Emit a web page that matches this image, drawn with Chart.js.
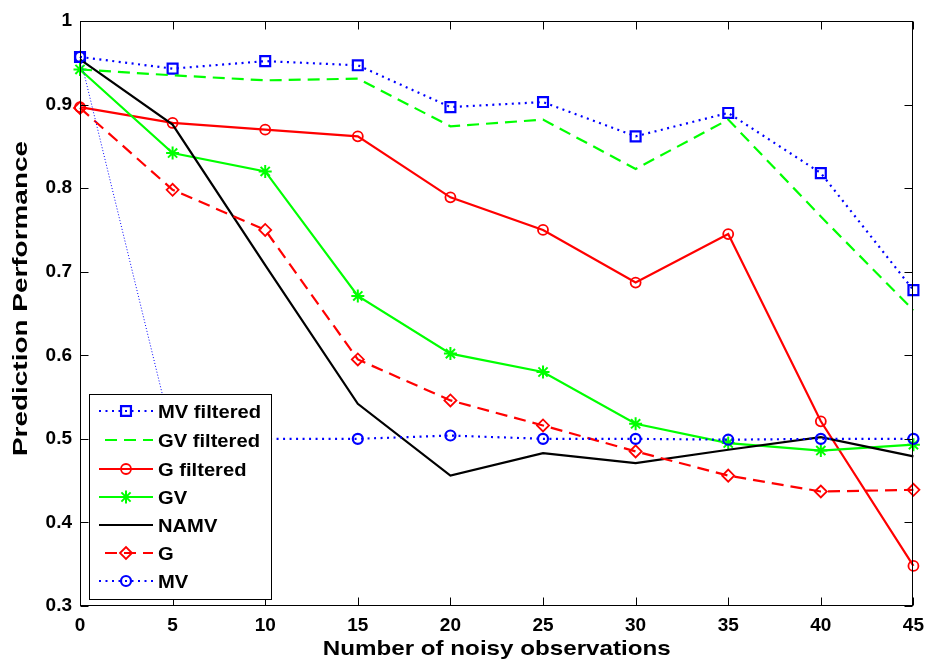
<!DOCTYPE html>
<html>
<head>
<meta charset="utf-8">
<script src="https://cdn.jsdelivr.net/npm/chart.js@4/dist/chart.umd.min.js"></script>
<style>
html,body{margin:0;padding:0;background:#fff;}
canvas{display:block;}
</style>
</head>
<body>
<canvas id="c" width="932" height="665"></canvas>
<script>
// ---- data ----
const xValues = [0, 5, 10, 15, 20, 25, 30, 35, 40, 45];
const xTickLabels = ['0', '5', '10', '15', '20', '25', '30', '35', '40', '45'];
const yTickValues = [0.3, 0.4, 0.5, 0.6, 0.7, 0.8, 0.9, 1.0];
const yTickLabels = ['0.3', '0.4', '0.5', '0.6', '0.7', '0.8', '0.9', '1'];
const seriesNames = ['MV filtered', 'GV filtered', 'G filtered', 'GV', 'NAMV', 'G', 'MV'];
const mvFiltered = [0.957, 0.943, 0.952, 0.947, 0.897, 0.903, 0.862, 0.890, 0.818, 0.678];
const gvFiltered = [0.942, 0.935, 0.929, 0.931, 0.874, 0.882, 0.823, 0.882, 0.766, 0.654];
const gFiltered  = [0.897, 0.878, 0.870, 0.862, 0.789, 0.750, 0.687, 0.745, 0.521, 0.348];
const gv         = [0.942, 0.842, 0.820, 0.671, 0.602, 0.580, 0.518, 0.495, 0.486, 0.493];
const namv       = [0.954, 0.876, 0.708, 0.542, 0.456, 0.483, 0.471, 0.487, 0.502, 0.479];
const g          = [0.896, 0.798, 0.750, 0.595, 0.546, 0.516, 0.485, 0.456, 0.437, 0.439];
const mv         = [0.957, 0.503, 0.500, 0.500, 0.504, 0.500, 0.500, 0.499, 0.500, 0.500];
const xTitle = 'Number of noisy observations';
const yTitle = 'Prediction Performance';

const BLUE = '#0000ff', GREEN = '#00ff00', RED = '#ff0000', BLACK = '#000000';
const FONT = '"Liberation Sans", Arial, sans-serif';
const DOT = [2, 4.5];
const DASH = [12, 7];

function pts(arr) { return arr.map((v, i) => ({ x: xValues[i], y: v })); }

const styles = [
  { color: BLUE,  dash: DOT,  point: 'rect',    radius: 7,   pbw: 2.2 },
  { color: GREEN, dash: DASH, point: false,     radius: 0,   pbw: 0 },
  { color: RED,   dash: [],   point: 'circle',  radius: 5,   pbw: 1.8 },
  { color: GREEN, dash: [],   point: 'star',    radius: 6.5, pbw: 2 },
  { color: BLACK, dash: [],   point: false,     radius: 0,   pbw: 0 },
  { color: RED,   dash: DASH, point: 'rectRot', radius: 6,   pbw: 1.8 },
  { color: BLUE,  dash: DOT,  point: 'circle',  radius: 5,   pbw: 2.2 }
];
const seriesData = [mvFiltered, gvFiltered, gFiltered, gv, namv, g, mv];

const datasets = seriesData.map((arr, i) => {
  const s = styles[i];
  const ds = {
    label: seriesNames[i],
    data: pts(arr),
    borderColor: s.color,
    backgroundColor: 'rgba(0,0,0,0)',
    borderWidth: 2.2,
    borderDash: s.dash,
    borderCapStyle: 'butt',
    pointStyle: s.point || 'circle',
    pointRadius: s.point ? s.radius : 0,
    pointBorderWidth: s.pbw,
    pointBorderColor: s.color,
    pointBackgroundColor: 'rgba(0,0,0,0)',
    tension: 0,
    fill: false,
    clip: false,
    order: 6 - i
  };
  if (i === 6) {
    ds.segment = {
      borderWidth: c => (c.p0DataIndex === 0 ? 1 : 2.2),
      borderDash: c => (c.p0DataIndex === 0 ? [1, 2] : DOT)
    };
  }
  return ds;
});

function stretchText(ctx, text, x, y, sx, align) {
  ctx.save();
  ctx.translate(x, y);
  ctx.scale(sx, 1);
  ctx.textAlign = align;
  ctx.fillText(text, 0, 0);
  ctx.restore();
}

function drawMarker(ctx, style, radius, x, y, color, bw) {
  if (!style) return;
  if (Chart.helpers && Chart.helpers.drawPoint) {
    ctx.save();
    ctx.strokeStyle = color;
    ctx.fillStyle = 'rgba(0,0,0,0)';
    ctx.lineWidth = bw;
    ctx.setLineDash([]);
    Chart.helpers.drawPoint(ctx, { pointStyle: style, rotation: 0, borderWidth: bw, radius: radius }, x, y);
    ctx.restore();
  }
}

const decor = {
  id: 'decor',
  afterDraw(chart) {
    const ctx = chart.ctx;
    const a = chart.chartArea;
    const xs = chart.scales.x, ys = chart.scales.y;
    const L = Math.round(a.left) + 0.5, R = Math.round(a.right) - 0.5;
    const T = Math.round(a.top) + 0.5, B = Math.round(a.bottom) - 0.5;
    ctx.save();
    ctx.strokeStyle = '#000';
    ctx.lineWidth = 1;
    ctx.setLineDash([]);
    ctx.strokeRect(L, T, R - L, B - T);
    const TL = 8;
    ctx.beginPath();
    xValues.forEach(v => {
      const px = Math.round(xs.getPixelForValue(v)) + 0.5;
      ctx.moveTo(px, B); ctx.lineTo(px, B - TL);
      ctx.moveTo(px, T); ctx.lineTo(px, T + TL);
    });
    yTickValues.forEach(v => {
      const py = Math.round(ys.getPixelForValue(v)) + 0.5;
      ctx.moveTo(L, py); ctx.lineTo(L + TL, py);
      ctx.moveTo(R, py); ctx.lineTo(R - TL, py);
    });
    ctx.stroke();

    // legend
    const bx = 89.5, by = 394.5, bw = 182, bh = 205;
    ctx.fillStyle = '#fff';
    ctx.fillRect(bx, by, bw, bh);
    ctx.strokeStyle = '#000';
    ctx.lineWidth = 1;
    ctx.strokeRect(bx, by, bw, bh);
    const rowY = [411, 440, 469, 497, 525, 553, 581];
    ctx.font = 'bold 18px ' + FONT;
    chart.data.datasets.forEach((ds, i) => {
      const s = styles[i];
      const y = rowY[i];
      ctx.save();
      ctx.strokeStyle = s.color;
      ctx.lineWidth = 2.2;
      ctx.lineCap = 'butt';
      ctx.setLineDash(s.dash);
      ctx.beginPath();
      if (s.dash === DASH) { ctx.moveTo(105, y); } else { ctx.moveTo(99, y); }
      ctx.lineTo(153, y);
      ctx.stroke();
      ctx.restore();
      drawMarker(ctx, s.point, s.radius, 126, y, s.color, s.pbw);
      ctx.fillStyle = '#000';
      ctx.textBaseline = 'alphabetic';
      stretchText(ctx, ds.label, 158, y + 6.5, 1.12, 'left');
    });

    // axis titles
    ctx.fillStyle = '#000';
    ctx.font = 'bold 21px ' + FONT;
    ctx.textBaseline = 'alphabetic';
    let w = ctx.measureText(xTitle).width;
    stretchText(ctx, xTitle, (a.left + a.right) / 2, 655, 348 / w, 'center');
    w = ctx.measureText(yTitle).width;
    ctx.save();
    ctx.translate(27, (a.top + a.bottom) / 2 - 15);
    ctx.rotate(-Math.PI / 2);
    ctx.scale(315 / w, 1);
    ctx.textAlign = 'center';
    ctx.fillText(yTitle, 0, 0);
    ctx.restore();
    ctx.restore();
  }
};

new Chart(document.getElementById('c'), {
  type: 'line',
  data: { datasets },
  options: {
    responsive: false,
    animation: false,
    events: [],
    layout: { padding: { top: 21, right: 13, left: 0, bottom: 0 } },
    plugins: { legend: { display: false }, tooltip: { enabled: false }, title: { display: false } },
    scales: {
      x: {
        type: 'linear', min: 0, max: 45,
        grid: { display: false, drawTicks: false },
        border: { display: false },
        afterBuildTicks: s => { s.ticks = xValues.map(v => ({ value: v })); },
        afterFit: s => { s.height = 59; },
        ticks: {
          color: '#000', padding: 8, maxRotation: 0, autoSkip: false,
          font: { family: FONT, size: 19, weight: 'bold' },
          callback: (v) => { const k = xValues.indexOf(v); return k >= 0 ? xTickLabels[k] : ''; }
        }
      },
      y: {
        type: 'linear', min: 0.3, max: 1,
        grid: { display: false, drawTicks: false },
        border: { display: false },
        afterBuildTicks: s => { s.ticks = yTickValues.map(v => ({ value: v })); },
        afterFit: s => { s.width = 80; },
        ticks: {
          color: '#000', padding: 8, autoSkip: false,
          font: { family: FONT, size: 19, weight: 'bold' },
          callback: (v) => { const k = yTickValues.findIndex(t => Math.abs(t - v) < 1e-9); return k >= 0 ? yTickLabels[k] : ''; }
        }
      }
    }
  },
  plugins: [decor]
});
</script>
</body>
</html>
